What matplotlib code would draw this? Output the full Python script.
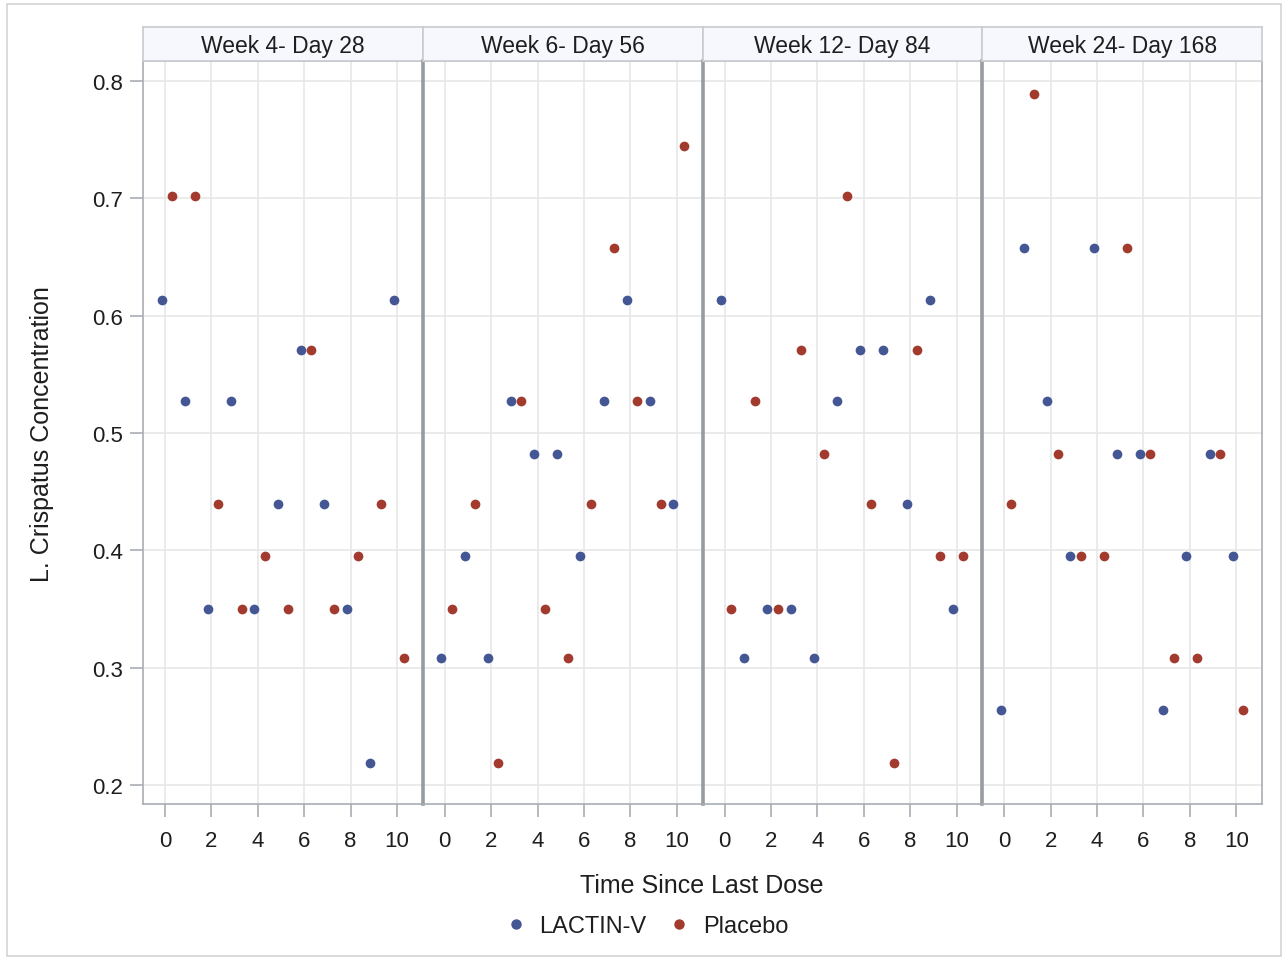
import matplotlib
matplotlib.use("Agg")
import matplotlib.pyplot as plt
from matplotlib.patches import Rectangle
from matplotlib.lines import Line2D

plt.rcParams["font.family"] = ["Liberation Sans", "DejaVu Sans"]

# data
panels = ["Week 4- Day 28", "Week 6- Day 56", "Week 12- Day 84", "Week 24- Day 168"]
hours = list(range(11))

lactin = [
    [0.613, 0.527, 0.350, 0.527, 0.350, 0.440, 0.571, 0.440, 0.350, 0.219, 0.613],
    [0.308, 0.395, 0.308, 0.527, 0.482, 0.482, 0.395, 0.527, 0.613, 0.527, 0.440],
    [0.613, 0.308, 0.350, 0.350, 0.308, 0.527, 0.571, 0.571, 0.440, 0.613, 0.350],
    [0.264, 0.658, 0.527, 0.395, 0.658, 0.482, 0.482, 0.264, 0.395, 0.482, 0.395],
]
placebo = [
    [0.702, 0.702, 0.440, 0.350, 0.395, 0.350, 0.571, 0.350, 0.395, 0.440, 0.308],
    [0.350, 0.440, 0.219, 0.527, 0.350, 0.308, 0.440, 0.658, 0.527, 0.440, 0.745],
    [0.350, 0.527, 0.350, 0.571, 0.482, 0.702, 0.440, 0.219, 0.571, 0.395, 0.395],
    [0.440, 0.789, 0.482, 0.395, 0.395, 0.658, 0.482, 0.308, 0.308, 0.482, 0.264],
]

groups = [("LACTIN-V", lactin, "#445694", -0.15), ("Placebo", placebo, "#A23A2E", 0.3)]

W, H = 1287, 962
fig = plt.figure(figsize=(W / 100, H / 100), dpi=100)

# outer border of the graph
fig.patches.append(Rectangle((7 / W, 5 / H), (1281 - 7) / W, (957 - 5) / H,
                             transform=fig.transFigure, fill=False,
                             edgecolor="#d4d4d4", linewidth=1.2))

left, right, top, bottom = 143, 1262, 62, 805
pw = (right - left) / 4
frame = "#a9aeb3"
divider = "#979ca1"
txt = "#1e1e1e"

for i, title in enumerate(panels):
    x0 = left + i * pw
    ax = fig.add_axes([x0 / W, 1 - bottom / H, pw / W, (bottom - top) / H])
    for name, vals, color, off in groups:
        ax.plot([h + off for h in hours], vals[i], "o", color=color,
                markersize=7, markeredgewidth=0, zorder=3)
    ax.set_xlim(-0.95, 11.11)
    ax.set_ylim(0.184, 0.817)
    ax.set_xticks(range(0, 11, 2))
    ax.set_yticks([0.2, 0.3, 0.4, 0.5, 0.6, 0.7, 0.8])
    ax.grid(True, color="#e6e6e6", linewidth=1.1, zorder=0)
    ax.set_axisbelow(True)
    ax.tick_params(axis="both", length=9.5, width=1.2, color=frame,
                   labelsize=16, labelcolor=txt)
    ax.tick_params(axis="x", pad=9)
    ax.tick_params(axis="y", pad=5)
    for s in ax.spines.values():
        s.set_color(frame)
        s.set_linewidth(1.2)
    if i > 0:
        ax.spines["left"].set_color(divider)
        ax.spines["left"].set_linewidth(2.6)
        ax.tick_params(axis="y", left=False, labelleft=False)
    else:
        ax.yaxis.set_major_formatter(matplotlib.ticker.FormatStrFormatter("%.1f"))

    # header strip
    hx = fig.add_axes([x0 / W, 1 - top / H, pw / W, 34 / H])
    hx.set_facecolor("#f6f8fd")
    hx.set_xticks([])
    hx.set_yticks([])
    for s in hx.spines.values():
        s.set_color("#c8ccd0")
        s.set_linewidth(1.2)
    hx.text(0.5, 0.47, title, ha="center", va="center", fontsize=16.5,
            color=txt, transform=hx.transAxes)

fig.text(42 / W, 1 - 434 / H, "L. Crispatus Concentration", rotation=90,
         ha="center", va="center", fontsize=18, color=txt)
fig.text(702 / W, 1 - 886 / H, "Time Since Last Dose", ha="center",
         va="center", fontsize=18, color=txt)

handles = [Line2D([], [], marker="o", linestyle="", color=c, markersize=7.5,
                  markeredgewidth=0) for _, _, c, _ in groups]
fig.legend(handles, [g[0] for g in groups], loc="center",
           bbox_to_anchor=(646 / W, 1 - 927 / H), ncol=2, frameon=False,
           fontsize=17, handletextpad=0.5, columnspacing=0.9,
           handlelength=1.0, labelcolor=txt)

fig.savefig("out.png", dpi=100)
